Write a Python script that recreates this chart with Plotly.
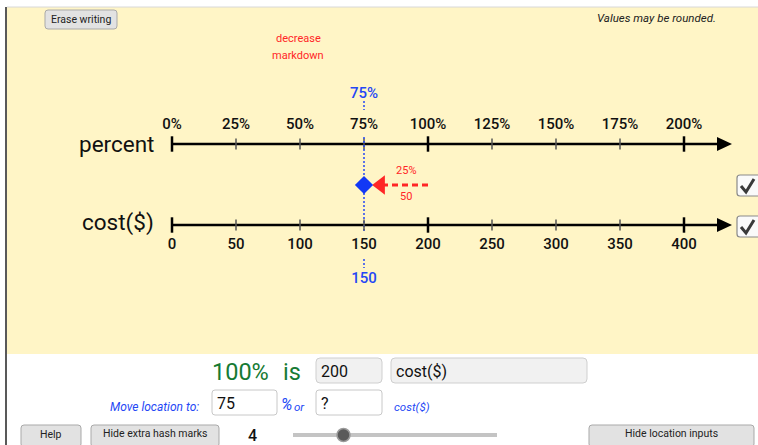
import plotly.graph_objects as go

# ---------------- data ----------------
percent_ticks = [0, 25, 50, 75, 100, 125, 150, 175, 200]
percent_labels = ["0%", "25%", "50%", "75%", "100%", "125%", "150%", "175%", "200%"]
cost_ticks = [0, 50, 100, 150, 200, 250, 300, 350, 400]
cost_labels = ["0", "50", "100", "150", "200", "250", "300", "350", "400"]
major_percent = [0, 100, 200]
major_cost = [0, 200, 400]
base_percent = 100
base_cost = 200
location_percent = 75
location_cost = 150
change_percent_label = "25%"
change_cost_label = "50"
slider_value = "4"

W, H = 758, 445
FONT = "Roboto"
YELLOW = "#FFF5C6"
BLUE = "#2447f5"
RED = "#ff2626"
GREEN = "#167a34"

fig = go.Figure()

# y pixel positions of the two lines (layout)
Y_P = 144
Y_C = 225
Y_MID = 185

minor_p = [p for p in percent_ticks if p not in major_percent]
minor_c = [c for c in cost_ticks if c not in major_cost]

common = dict(cliponaxis=False, showlegend=False, hoverinfo="skip")

# percent line ticks
fig.add_trace(go.Scatter(x=minor_p, y=[Y_P] * len(minor_p), xaxis="x2", yaxis="y", mode="markers",
                         marker=dict(symbol="line-ns", size=8, line=dict(width=1.5, color="#555")), **common))
fig.add_trace(go.Scatter(x=major_percent, y=[Y_P] * len(major_percent), xaxis="x2", yaxis="y", mode="markers",
                         marker=dict(symbol="line-ns", size=11, line=dict(width=2.5, color="#000")), **common))
fig.add_trace(go.Scatter(x=percent_ticks, y=[Y_P - 19] * len(percent_ticks), xaxis="x2", yaxis="y", mode="text",
                         text=percent_labels, textfont=dict(family=FONT, size=15, color="#111", weight=500), **common))
# cost line ticks
fig.add_trace(go.Scatter(x=minor_c, y=[Y_C] * len(minor_c), xaxis="x3", yaxis="y", mode="markers",
                         marker=dict(symbol="line-ns", size=8, line=dict(width=1.5, color="#555")), **common))
fig.add_trace(go.Scatter(x=major_cost, y=[Y_C] * len(major_cost), xaxis="x3", yaxis="y", mode="markers",
                         marker=dict(symbol="line-ns", size=11, line=dict(width=2.5, color="#000")), **common))
fig.add_trace(go.Scatter(x=cost_ticks, y=[Y_C + 20] * len(cost_ticks), xaxis="x3", yaxis="y", mode="text",
                         text=cost_labels, textfont=dict(family=FONT, size=15, color="#111", weight=500), **common))

# blue dotted location line
lp = location_percent
fig.add_trace(go.Scatter(x=[lp, lp, None, lp, lp, None, lp, lp],
                         y=[101, 110, None, 137, 232, None, 259, 268], xaxis="x2", yaxis="y", mode="lines",
                         line=dict(color=BLUE, width=1.5, dash="2px,2px"), **common))
# red dashed arrow from base to location
head_x = location_percent + (base_percent - location_percent) * 0.26
fig.add_trace(go.Scatter(x=[base_percent, head_x], y=[Y_MID, Y_MID], xaxis="x2", yaxis="y", mode="lines",
                         line=dict(color=RED, width=3, dash="6px,4px"), **common))
fig.add_trace(go.Scatter(x=[head_x], y=[Y_MID], xaxis="x2", yaxis="y", mode="markers",
                         marker=dict(symbol="triangle-left", size=17, color=RED, line=dict(width=0)), **common))
# blue diamond
fig.add_trace(go.Scatter(x=[location_percent], y=[Y_MID], xaxis="x2", yaxis="y", mode="markers",
                         marker=dict(symbol="diamond", size=14, color="#1238f5", line=dict(width=0)), **common))
# blue labels
fig.add_trace(go.Scatter(x=[location_percent], y=[94], xaxis="x2", yaxis="y", mode="text",
                         text=[f"{location_percent}%"], textfont=dict(family=FONT, size=15, color=BLUE, weight=500), **common))
fig.add_trace(go.Scatter(x=[location_cost], y=[279], xaxis="x3", yaxis="y", mode="text",
                         text=[f"{location_cost}"], textfont=dict(family=FONT, size=15, color=BLUE, weight=500), **common))
# red change labels
mid_p = (location_percent + base_percent) / 2
fig.add_trace(go.Scatter(x=[mid_p + 4, mid_p + 4], y=[171, 197], xaxis="x2", yaxis="y", mode="text",
                         text=[change_percent_label, change_cost_label],
                         textfont=dict(family=FONT, size=11, color=RED), **common))

shapes = []


def rrect(x0, y0, x1, y1, r=3, fill="#e2e2e2", line="#a9a9a9", lw=1):
    p = (f"M{x0+r},{y0} L{x1-r},{y0} Q{x1},{y0} {x1},{y0+r} L{x1},{y1-r} Q{x1},{y1} {x1-r},{y1} "
         f"L{x0+r},{y1} Q{x0},{y1} {x0},{y1-r} L{x0},{y0+r} Q{x0},{y0} {x0+r},{y0} Z")
    shapes.append(dict(type="path", path=p, xref="x", yref="y", fillcolor=fill,
                       line=dict(color=line, width=lw), layer="above"))


# background panel
shapes.append(dict(type="rect", xref="x", yref="y", x0=7, x1=W, y0=7, y1=354, fillcolor=YELLOW,
                   line=dict(width=0), layer="below"))
shapes.append(dict(type="line", xref="x", yref="y", x0=7, x1=W, y0=7, y1=7, line=dict(color="#d8d8d8", width=1), layer="below"))
shapes.append(dict(type="line", xref="x", yref="y", x0=6, x1=6, y0=7, y1=H, line=dict(color="#222", width=1.5), layer="below"))

# number lines with arrowheads
for yy in (Y_P, Y_C):
    shapes.append(dict(type="line", xref="x", yref="y", x0=172, x1=720, y0=yy, y1=yy,
                       line=dict(color="#000", width=2.5), layer="below"))
    shapes.append(dict(type="path", xref="x", yref="y",
                       path=f"M717,{yy-7} L732,{yy} L717,{yy+7} Z", fillcolor="#000", line=dict(width=0), layer="below"))

# checkboxes
for yy in (175, 216):
    rrect(737, yy, 762, yy + 21, r=3, fill="#fafafa", line="#8a8a8a", lw=1.2)
    shapes.append(dict(type="path", xref="x", yref="y",
                       path=f"M741,{yy+11} L746,{yy+17} L754,{yy+4}", line=dict(color="#3a3a3a", width=3), layer="above"))

# buttons
rrect(45, 10, 117, 29)
rrect(21, 425, 81, 447)
rrect(91, 425, 219, 447)
rrect(589, 425, 754, 447)

# input boxes
rrect(316, 358, 382, 383, r=4, fill="#f1f1f1", line="#cfcfcf")
rrect(391, 358, 587, 383, r=4, fill="#f1f1f1", line="#cfcfcf")
rrect(212, 390, 277, 415, r=3, fill="#ffffff", line="#c8c8c8")
rrect(316, 390, 382, 415, r=3, fill="#ffffff", line="#c8c8c8")

# slider
shapes.append(dict(type="line", xref="x", yref="y", x0=293, x1=497, y0=435, y1=435,
                   line=dict(color="#c4c4c4", width=4), layer="above"))
shapes.append(dict(type="circle", xref="x", yref="y", x0=337, x1=350, y0=428.5, y1=441.5,
                   fillcolor="#5a5a5a", line=dict(color="#9a9a9a", width=1.5), layer="above"))

ann = []


def txt(x, y, s, size=12, color="#000", xanchor="center", italic=False, weight="normal", family=FONT):
    ann.append(dict(x=x, y=y, xref="x", yref="y", text=s, showarrow=False, xanchor=xanchor, yanchor="middle",
                    font=dict(family=family, size=size, color=color, weight=weight,
                              style="italic" if italic else "normal")))


txt(81, 19, "Erase writing", size=10.5, color="#222")
txt(718, 18, "Values may be rounded.", size=11.5, color="#222", xanchor="right", italic=True)
txt(298, 38, "decrease", size=11, color=RED)
txt(298, 55, "markdown", size=11, color=RED)
txt(156, 144, "percent", size=22.5, color="#111", xanchor="right")
txt(156, 222, "cost($)", size=22.5, color="#111", xanchor="right")

txt(271, 372, f"{base_percent}%", size=23.5, color=GREEN, xanchor="right")
txt(281, 372, "is", size=23.5, color=GREEN, xanchor="left")
txt(319, 371, f"{base_cost}", size=16, color="#111", xanchor="left")
txt(394, 371, "cost($)", size=16, color="#111", xanchor="left")
txt(201, 407, "Move location to:", size=12, color=BLUE, xanchor="right", italic=True)
txt(215, 403, f"{location_percent}", size=16, color="#111", xanchor="left")
txt(279, 404, "%", size=16, color=BLUE, xanchor="left", italic=True)
txt(292, 407, "or", size=11.5, color=BLUE, xanchor="left", italic=True)
txt(319, 403, "?", size=16, color="#111", xanchor="left")
txt(392, 407, "cost($)", size=11.5, color=BLUE, xanchor="left", italic=True)

txt(51, 434, "Help", size=10.5, color="#222")
txt(155, 433, "Hide extra hash marks", size=10.5, color="#222")
txt(252, 435, slider_value, size=16, color="#111", weight=500)
txt(671, 433, "Hide location inputs", size=10.5, color="#222")

dom = [172 / W, 684 / W]
fig.update_layout(
    width=W, height=H, margin=dict(l=0, r=0, t=0, b=0),
    paper_bgcolor="white", plot_bgcolor="rgba(0,0,0,0)",
    xaxis=dict(range=[0, W], visible=False, domain=[0, 1], fixedrange=True),
    yaxis=dict(range=[H, 0], visible=False, domain=[0, 1], fixedrange=True),
    xaxis2=dict(range=[0, 200], domain=dom, anchor="y", visible=False, fixedrange=True),
    xaxis3=dict(range=[0, 400], domain=dom, anchor="y", visible=False, fixedrange=True),
    shapes=shapes, annotations=ann, showlegend=False,
)

fig.write_html("out.html", config={"displayModeBar": False},
               post_script="document.body.style.margin='0px';document.body.style.overflow='hidden';")
